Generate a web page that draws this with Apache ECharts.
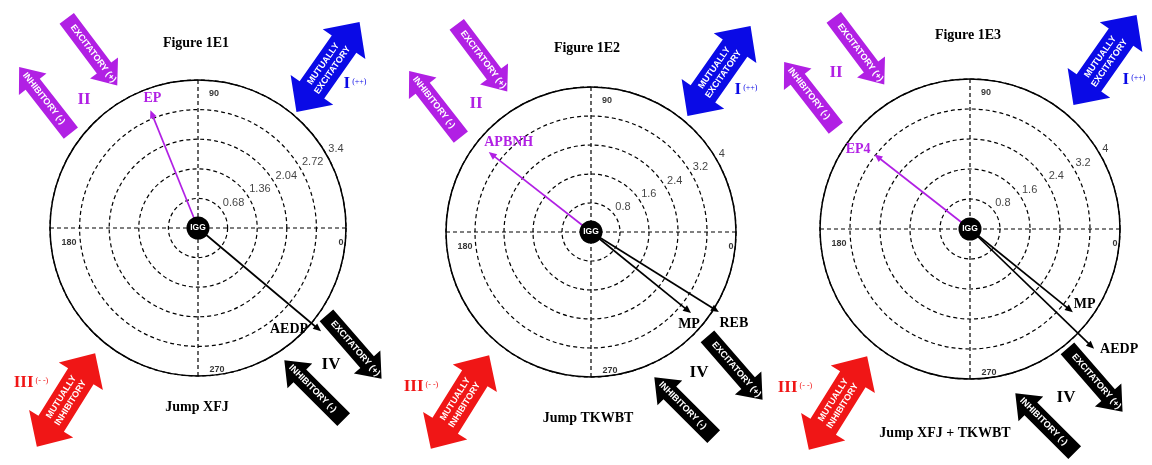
<!DOCTYPE html>
<html><head><meta charset="utf-8">
<script src="https://cdn.jsdelivr.net/npm/echarts@6/dist/echarts.min.js"></script>
<style>html,body{margin:0;padding:0;background:#fff}#c{width:1152px;height:465px}</style>
</head><body><div id="c"></div>
<script>
// ---------------- data ----------------
const panelTitles = ['Figure 1E1', 'Figure 1E2', 'Figure 1E3'];
const panelSubtitles = ['Jump XFJ', 'Jump TKWBT', 'Jump XFJ + TKWBT'];
const radiusMax = [3.4, 4, 4];
const radiusInterval = [0.68, 0.8, 0.8];
const ringTickLabels1 = ['0.68', '1.36', '2.04', '2.72', '3.4'];
const ringTickLabels2 = ['0.8', '1.6', '2.4', '3.2', '4'];
const ringTickLabels3 = ['0.8', '1.6', '2.4', '3.2', '4'];
const angleTickLabels = ['0', '90', '180', '270'];
const centerLabel = 'IGG';
const vectorNames1 = ['EP', 'AEDP'];
const vectorLengths1 = [2.92, 3.69];
const vectorAngles1 = [112, 320];
const vectorNames2 = ['APBNH', 'MP', 'REB'];
const vectorLengths2 = [3.58, 3.55, 4.16];
const vectorAngles2 = [142, 321, 328];
const vectorNames3 = ['EP4', 'MP', 'AEDP'];
const vectorLengths3 = [3.23, 3.53, 4.6];
const vectorAngles3 = [142, 321, 316];
const quadrantTexts = ['I', 'II', 'III', 'IV'];
const quadrantSigns = ['(++)', '', '(- -)', ''];
const arrowTexts = ['EXCITATORY (+)', 'INHIBITORY (-)', 'MUTUALLY\nEXCITATORY', 'MUTUALLY\nINHIBITORY', 'EXCITATORY (+)', 'INHIBITORY (-)'];

// ---------------- styles / layout ----------------
const PURPLE = '#b120e4', BLUE = '#0a0ae6', RED = '#f01616', BLACK = '#000';
const SERIF = '"Liberation Serif", "Times New Roman", serif';
const SANS = '"Liberation Sans", Arial, sans-serif';
const ringLabelAngle = 27;
const angleLabelOffsets = [[-5, 15], [16, 14], [19, 15], [19, -6]];
const layout = [
  { center: [198, 228], radius: 148, title: [196, 43], sub: [197, 407],
    vec: [{ c: PURPLE, dx: 2, dy: -12, al: 'center' }, { c: BLACK, dx: -13, dy: -2, al: 'right' }],
    quad: [[355, 84], [84, 100], [31, 383], [331, 365]],
    arrows: [[92, 52, -53], [45, 100, -52], [328, 67, 55], [66, 400, 58], [354, 347, -49], [314, 390, -45]] },
  { center: [591, 232], radius: 145, title: [587, 48], sub: [588, 418],
    vec: [{ c: PURPLE, dx: 20, dy: -10, al: 'center' }, { c: BLACK, dx: -2, dy: 11, al: 'center' }, { c: BLACK, dx: 15, dy: 11, al: 'center' }],
    quad: [[746, 90], [476, 104], [421, 387], [699, 373]],
    arrows: [[482, 58, -53], [435, 104, -52], [719, 71, 55], [460, 402, 58], [735, 368, -49], [684, 407, -45]] },
  { center: [970, 229], radius: 150, title: [968, 35], sub: [945, 433],
    vec: [{ c: PURPLE, dx: -4, dy: -5, al: 'right' }, { c: BLACK, dx: 1, dy: -8, al: 'left' }, { c: BLACK, dx: 6, dy: 1, al: 'left' }],
    quad: [[1134, 80], [836, 73], [795, 388], [1066, 398]],
    arrows: [[859, 51, -53], [810, 95, -52], [1105, 60, 55], [838, 403, 58], [1095, 380, -49], [1045, 423, -45]] }
];
const arrowKinds = [
  { kind: 'single', head: 'end', color: PURPLE }, { kind: 'single', head: 'start', color: PURPLE },
  { kind: 'double', color: BLUE }, { kind: 'double', color: RED },
  { kind: 'single', head: 'end', color: BLACK }, { kind: 'single', head: 'start', color: BLACK }
];
const quadColors = [BLUE, PURPLE, RED, BLACK];

const panels = [
  { names: vectorNames1, lens: vectorLengths1, angs: vectorAngles1, rings: ringTickLabels1 },
  { names: vectorNames2, lens: vectorLengths2, angs: vectorAngles2, rings: ringTickLabels2 },
  { names: vectorNames3, lens: vectorLengths3, angs: vectorAngles3, rings: ringTickLabels3 }
];

function arrowPoints(kind, head) {
  if (kind === 'double') {
    const L = 110, hl = 27, W = 52, S = 30;
    return [[-L/2, 0], [-L/2+hl, -W/2], [-L/2+hl, -S/2], [L/2-hl, -S/2], [L/2-hl, -W/2], [L/2, 0],
            [L/2-hl, W/2], [L/2-hl, S/2], [-L/2+hl, S/2], [-L/2+hl, W/2]];
  }
  const L = 84, hl = 22, W = 35, S = 18;
  let pts = [[-L/2, -S/2], [L/2-hl, -S/2], [L/2-hl, -W/2], [L/2, 0], [L/2-hl, W/2], [L/2-hl, S/2], [-L/2, S/2]];
  if (head === 'start') pts = pts.map(p => [-p[0], p[1]]);
  return pts;
}

const polar = [], angleAxis = [], radiusAxis = [], series = [], graphic = [];
const dashed = { color: '#000', type: [4, 3], width: 1.2 };

panels.forEach((pd, p) => {
  const Lo = layout[p];
  polar.push({ center: Lo.center, radius: Lo.radius });
  angleAxis.push({ polarIndex: p, type: 'value', min: 0, max: 360, interval: 90, startAngle: 0, clockwise: false,
    axisLine: { show: true, lineStyle: { color: '#000', width: 1.5 } }, axisTick: { show: false }, axisLabel: { show: false },
    splitLine: { show: true, lineStyle: dashed } });
  radiusAxis.push({ polarIndex: p, type: 'value', min: 0, max: radiusMax[p], interval: radiusInterval[p],
    axisLine: { show: false }, axisTick: { show: false }, axisLabel: { show: false },
    splitLine: { show: true, lineStyle: dashed } });

  // vectors (arrows from IGG) drawn through the polar coordinate system
  series.push({ type: 'custom', coordinateSystem: 'polar', polarIndex: p, animation: false, silent: true, z: 3,
    data: pd.lens.map((r, i) => [r, pd.angs[i]]),
    renderItem: (params, api) => {
      const i = params.dataIndex, st = Lo.vec[i];
      const r = api.value(0), a = api.value(1);
      const p0 = api.coord([0, a]), p1 = api.coord([r, a]);
      const dx = p1[0] - p0[0], dy = p1[1] - p0[1], len = Math.hypot(dx, dy);
      const ux = dx / len, uy = dy / len, hl = 8, hw = 3.5;
      const b = [p1[0] - ux * hl, p1[1] - uy * hl];
      return { type: 'group', children: [
        { type: 'line', shape: { x1: p0[0], y1: p0[1], x2: b[0] + ux, y2: b[1] + uy }, style: { stroke: st.c, lineWidth: 1.7 } },
        { type: 'polygon', shape: { points: [p1, [b[0] - uy * hw, b[1] + ux * hw], [b[0] + uy * hw, b[1] - ux * hw]] }, style: { fill: st.c } },
        { type: 'text', x: p1[0] + st.dx, y: p1[1] + st.dy,
          style: { text: pd.names[i], fill: st.c, fontFamily: SERIF, fontWeight: 'bold', fontSize: 14, align: st.al, verticalAlign: 'middle' } }
      ] };
    } });

  series.push({ type: 'scatter', coordinateSystem: 'polar', polarIndex: p, animation: false, silent: true, z: 10,
    symbolSize: 23, itemStyle: { color: '#000', opacity: 1 },
    label: { show: true, position: 'inside', formatter: centerLabel, color: '#fff', fontFamily: SANS, fontWeight: 'bold', fontSize: 8.5 },
    data: [[0, 0]] });

  series.push({ type: 'scatter', coordinateSystem: 'polar', polarIndex: p, animation: false, silent: true, z: 5,
    symbolSize: 1, itemStyle: { color: 'rgba(0,0,0,0)' },
    label: { show: true, position: 'inside', color: '#000', fontFamily: '"Liberation Sans Narrow", ' + SANS, fontWeight: 'bold', fontSize: 9,
      formatter: prm => angleTickLabels[prm.dataIndex] },
    data: angleTickLabels.map((t, i) => ({ value: [radiusMax[p], Number(t)], label: { offset: angleLabelOffsets[i] } })) });

  series.push({ type: 'scatter', coordinateSystem: 'polar', polarIndex: p, animation: false, silent: true, z: 5,
    symbolSize: 1, itemStyle: { color: 'rgba(0,0,0,0)' },
    label: { show: true, position: 'right', distance: 0, offset: [-2, -12], color: '#111', fontFamily: SANS, fontSize: 11,
      formatter: prm => pd.rings[prm.dataIndex] },
    data: pd.rings.map(t => [Number(t), ringLabelAngle]) });

  // decorations
  Lo.arrows.forEach((a, k) => {
    const ak = arrowKinds[k];
    graphic.push({ type: 'group', x: a[0], y: a[1], rotation: a[2] * Math.PI / 180, silent: true,
      children: [
        { type: 'polygon', shape: { points: arrowPoints(ak.kind, ak.head) }, style: { fill: ak.color } },
        { type: 'text', x: ak.kind === 'double' ? 0 : (ak.head === 'end' ? 2 : -2), y: 0,
          style: { text: arrowTexts[k], fill: '#fff', fontFamily: SANS, fontWeight: 'bold', fontSize: 9,
            lineHeight: 11, align: 'center', verticalAlign: 'middle' } }
      ] });
  });
  Lo.quad.forEach((q, k) => {
    graphic.push({ type: 'text', x: q[0], y: q[1], silent: true,
      style: { text: '{a|' + quadrantTexts[k] + '}' + (quadrantSigns[k] ? '{b|' + quadrantSigns[k] + '}' : ''),
        align: 'center', verticalAlign: 'middle',
        rich: { a: { fill: quadColors[k], fontFamily: SERIF, fontWeight: 'bold', fontSize: 17 },
                b: { fill: quadColors[k], fontFamily: SERIF, fontSize: 8, padding: [0, 0, 4, 2] } } } });
  });
  graphic.push({ type: 'text', x: Lo.title[0], y: Lo.title[1], silent: true,
    style: { text: panelTitles[p], fill: '#000', fontFamily: SERIF, fontWeight: 'bold', fontSize: 14, align: 'center', verticalAlign: 'middle' } });
  graphic.push({ type: 'text', x: Lo.sub[0], y: Lo.sub[1], silent: true,
    style: { text: panelSubtitles[p], fill: '#000', fontFamily: SERIF, fontWeight: 'bold', fontSize: 14, align: 'center', verticalAlign: 'middle' } });
});

const chart = echarts.init(document.getElementById('c'));
chart.setOption({ animation: false, backgroundColor: '#fff', polar, angleAxis, radiusAxis, series, graphic });
</script></body></html>
